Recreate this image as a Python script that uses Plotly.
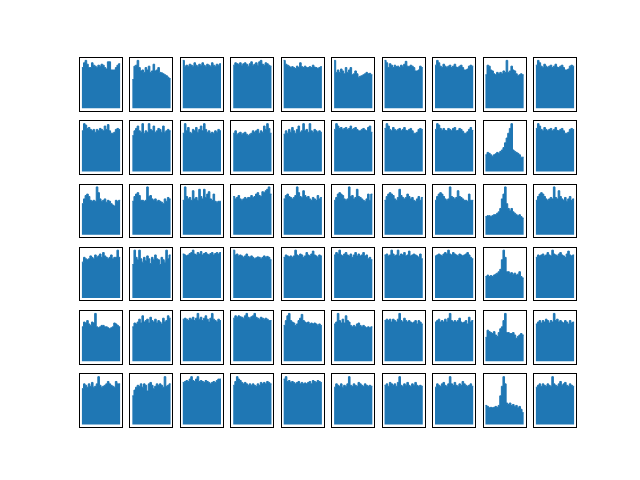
import plotly.graph_objects as go
from plotly.subplots import make_subplots

row1 = [
    [0.85,0.95,1.0,0.92,0.85,0.85,0.95,0.9,0.88,0.85,0.9,0.88,0.92,0.9,0.85,0.82,0.97,0.97,0.8,0.8,0.8,0.85,0.9,0.93],
    [0.6,0.88,0.9,1.0,0.85,0.78,0.8,0.75,0.85,0.8,0.88,0.75,0.78,0.92,0.78,0.8,0.85,0.75,0.74,0.72,0.7,0.68,0.65,0.62],
    [1.0,0.88,0.9,0.88,0.92,0.9,0.88,0.95,0.9,0.88,0.92,0.9,0.95,0.9,0.88,0.92,0.9,0.88,0.95,0.9,0.88,0.92,0.9,0.93],
    [0.9,0.95,0.93,0.92,0.95,0.9,0.93,0.95,0.92,0.88,0.93,0.97,0.9,0.92,0.95,0.9,0.97,1.0,0.92,0.9,0.95,0.93,0.9,0.88],
    [1.0,0.92,0.9,0.88,0.85,0.87,0.85,0.83,0.88,0.85,0.95,0.87,0.85,0.88,0.85,0.85,0.87,0.85,0.9,0.86,0.85,0.83,0.85,0.87],
    [1.0,0.75,0.8,0.75,0.82,0.78,0.72,0.85,0.75,0.8,0.85,0.7,0.72,0.78,0.72,0.65,0.67,0.68,0.7,0.72,0.75,0.72,0.73,0.7],
    [1.0,0.95,0.85,0.93,0.9,0.85,0.9,0.87,0.88,0.85,0.9,0.88,0.92,0.98,0.88,0.87,0.9,0.88,0.85,0.78,0.78,0.8,0.88,0.85],
    [0.9,1.0,0.95,0.88,0.85,0.92,0.88,0.85,0.88,0.9,0.85,0.88,0.92,0.86,0.85,0.88,0.9,0.85,0.8,0.8,0.82,0.88,0.9,0.88],
    [0.7,0.9,0.88,0.8,0.78,0.72,0.7,0.75,0.72,0.75,0.72,0.78,0.75,1.0,0.75,0.78,0.88,0.8,0.78,0.72,0.68,0.7,0.72,0.7],
    [0.9,1.0,0.95,0.88,0.85,0.92,0.88,0.85,0.88,0.9,0.85,0.88,0.92,0.86,0.85,0.88,0.9,0.85,0.8,0.8,0.82,0.88,0.9,0.88],
]
row2 = [
    [0.85,1.0,0.97,0.9,0.92,0.88,0.85,0.88,0.82,0.88,0.85,0.9,0.88,0.85,0.95,0.88,0.98,0.85,0.8,0.8,0.82,0.88,0.9,0.88],
    [0.75,0.85,0.9,0.95,0.85,0.82,1.0,0.8,0.85,0.82,1.0,0.88,0.85,0.95,0.82,0.85,0.9,0.88,0.82,0.95,0.82,0.85,0.88,0.85],
    [0.8,1.0,0.85,0.92,0.82,0.8,0.88,0.85,0.92,0.82,0.88,0.95,0.85,1.0,0.88,0.82,0.85,0.8,0.82,0.8,0.85,0.82,0.88,0.85],
    [0.8,0.85,0.78,0.8,0.82,0.78,0.8,0.82,0.78,0.75,0.78,0.8,0.85,0.82,0.85,0.88,0.8,0.85,0.82,0.95,0.88,1.0,0.9,0.8],
    [0.78,0.85,0.8,0.88,0.82,0.92,0.85,0.8,0.88,0.95,0.82,0.85,1.0,0.85,0.88,0.82,1.0,0.85,0.82,0.88,0.85,0.82,0.85,0.82],
    [0.88,1.0,0.95,0.9,0.92,0.88,0.9,0.92,0.88,0.9,0.95,0.88,0.9,0.92,0.88,0.85,0.85,0.88,0.9,0.87,0.85,0.92,0.95,0.82],
    [0.9,1.0,0.95,0.88,0.85,0.92,0.88,0.85,0.88,0.9,0.85,0.88,0.92,0.86,0.85,0.88,0.9,0.85,0.8,0.8,0.82,0.88,0.9,0.88],
    [0.88,1.0,0.97,0.9,0.86,0.9,0.86,0.85,0.9,0.88,0.85,0.9,0.92,0.85,0.86,0.9,0.88,0.84,0.8,0.8,0.83,0.88,0.92,0.86],
    [0.35,0.4,0.38,0.35,0.32,0.35,0.37,0.4,0.38,0.42,0.45,0.5,0.6,0.7,0.8,0.9,1.0,0.45,0.42,0.4,0.38,0.35,0.3,0.3],
    [0.9,1.0,0.95,0.88,0.85,0.92,0.88,0.85,0.88,0.9,0.85,0.88,0.92,0.86,0.85,0.88,0.9,0.85,0.8,0.8,0.82,0.88,0.9,0.88],
]
row3 = [
    [0.65,0.75,0.82,0.85,0.8,0.72,0.7,0.72,0.7,1.0,0.88,0.75,0.7,0.72,0.75,0.68,0.72,0.7,0.65,0.62,0.6,0.72,0.7,0.72],
    [0.7,0.8,0.85,0.88,0.82,0.72,0.72,0.7,0.72,1.0,0.8,0.82,0.75,0.72,0.75,0.7,0.72,0.7,0.68,0.65,0.75,0.7,0.78,0.75],
    [0.72,1.0,0.8,0.75,0.78,0.72,0.92,0.75,0.78,0.72,0.95,0.8,0.75,0.95,0.78,0.85,0.9,0.75,0.72,0.85,0.7,0.68,0.7,0.7],
    [0.8,0.75,0.78,0.82,0.75,0.72,0.75,0.78,0.75,0.78,0.78,0.82,0.78,0.8,0.85,0.88,0.82,0.8,0.9,0.88,0.92,0.95,1.0,0.85],
    [0.75,0.82,0.85,0.8,0.78,0.75,0.78,0.82,1.0,0.88,0.8,0.78,0.92,0.82,0.78,0.8,0.75,0.72,0.78,0.75,0.72,0.82,0.75,0.78],
    [0.72,0.78,0.85,0.88,0.85,0.82,0.75,0.72,0.75,1.0,0.8,0.82,0.75,0.78,0.95,0.8,0.78,0.75,0.72,0.7,0.75,0.85,0.72,0.85],
    [0.72,0.8,0.85,0.88,0.85,0.82,0.75,0.72,0.78,0.95,0.82,0.78,0.75,0.78,0.85,0.8,0.75,0.78,0.72,0.7,0.75,0.8,0.72,0.78],
    [0.72,0.8,0.85,0.88,0.85,0.8,0.75,0.72,0.75,1.0,0.8,0.78,0.75,0.78,0.92,0.8,0.78,0.75,0.72,0.72,0.7,0.85,0.72,0.72],
    [0.38,0.4,0.4,0.38,0.4,0.42,0.42,0.45,0.48,0.55,0.75,0.85,1.0,0.65,0.55,0.5,0.55,0.48,0.45,0.42,0.4,0.42,0.38,0.35],
    [0.72,0.8,0.85,0.88,0.85,0.8,0.75,0.72,0.75,0.78,0.75,1.0,0.78,0.75,0.92,0.8,0.75,0.72,0.78,0.7,0.75,0.8,0.72,0.75],
]
row4 = [
    [0.75,0.85,0.82,0.8,0.82,0.88,0.85,0.82,0.9,0.85,0.88,0.92,0.85,0.95,0.88,0.85,0.82,0.85,0.9,0.82,0.85,0.85,1.0,0.85],
    [0.7,1.0,0.85,0.8,1.0,0.82,0.75,0.85,0.78,0.88,0.82,0.72,0.85,0.8,0.9,0.82,0.8,0.7,0.85,0.8,0.75,1.0,0.82,0.9],
    [0.92,0.9,0.88,0.9,0.93,0.95,1.0,0.92,0.9,0.95,0.92,0.97,0.9,0.93,0.95,0.92,0.9,0.93,0.95,0.9,0.93,0.95,0.92,0.95],
    [1.0,0.9,0.92,0.88,0.9,0.88,0.85,0.88,0.92,0.87,0.85,0.88,0.85,0.82,0.84,0.86,0.85,0.82,0.85,0.88,0.85,0.87,0.85,0.8],
    [0.85,0.9,0.88,0.86,0.88,0.85,0.88,1.0,0.9,0.88,0.92,0.9,0.85,0.88,0.95,0.9,0.88,0.92,0.98,0.9,0.88,0.85,0.9,0.88],
    [0.9,0.95,0.92,1.0,0.9,0.88,0.92,0.95,0.9,0.88,0.92,0.85,0.9,0.95,0.88,0.92,0.88,0.9,0.95,0.88,0.9,0.82,0.85,0.8],
    [0.9,0.92,0.88,0.9,1.0,0.92,0.88,0.9,1.0,0.88,0.92,0.9,0.95,0.88,0.9,0.98,0.88,0.9,0.92,0.9,0.88,0.85,0.92,0.82],
    [0.88,0.9,0.92,0.9,0.88,0.92,0.95,0.92,1.0,0.92,0.9,0.95,0.92,0.9,0.88,0.92,0.9,0.88,0.9,0.92,0.95,0.9,0.85,0.82],
    [0.45,0.48,0.45,0.47,0.45,0.48,0.5,0.52,0.55,0.6,0.8,1.0,0.85,0.55,0.55,0.52,0.53,0.5,0.52,0.48,0.5,0.55,0.45,0.42],
    [0.85,0.9,0.88,0.9,0.92,0.88,0.9,0.95,0.9,0.88,1.0,0.92,0.9,0.88,0.92,0.95,0.9,0.88,0.85,0.92,0.98,0.9,0.88,0.9],
]
row5 = [
    [0.72,0.82,0.8,0.85,0.78,0.75,0.82,0.8,1.0,0.72,0.7,0.72,0.75,0.75,0.72,0.72,0.7,0.68,0.7,0.72,0.8,0.78,0.75,0.72],
    [0.72,0.8,0.78,0.82,0.88,0.8,0.95,0.82,0.85,0.88,0.8,0.92,0.85,0.82,0.88,0.8,0.85,0.82,0.78,0.9,0.82,0.85,0.95,0.9],
    [0.88,0.9,0.88,0.85,0.9,0.88,0.92,0.85,0.9,1.0,0.88,0.92,0.85,0.9,0.95,0.88,0.82,0.9,1.0,0.88,0.85,0.82,0.88,0.85],
    [0.9,0.95,0.92,0.95,0.93,0.92,0.9,0.95,1.0,0.92,0.9,0.93,0.95,1.0,0.92,0.9,0.88,0.92,0.9,0.88,0.9,0.88,0.85,0.85],
    [0.75,0.85,0.95,1.0,0.85,0.82,0.8,0.75,0.78,0.85,0.9,0.98,0.85,0.82,0.8,0.82,0.78,0.8,0.78,0.8,0.78,0.75,0.78,0.75],
    [0.78,0.82,1.0,0.85,0.8,0.88,0.8,0.95,0.85,0.82,0.75,0.72,0.75,0.72,0.78,0.8,0.75,0.72,0.75,0.72,0.7,0.72,0.7,0.72],
    [0.85,0.88,0.85,0.88,0.82,0.88,0.85,0.82,0.88,1.0,0.85,0.82,0.9,0.85,0.82,0.85,0.82,0.8,0.82,0.85,0.78,0.85,0.82,0.78],
    [0.82,0.85,0.88,0.82,0.85,0.82,0.88,0.82,0.9,1.0,0.85,0.82,0.85,0.82,0.85,0.9,0.82,0.8,0.82,0.85,0.78,0.92,0.82,0.85],
    [0.5,0.65,0.62,0.6,0.58,0.62,0.55,0.52,0.6,0.68,0.72,0.85,1.0,0.6,0.6,0.58,0.58,0.6,0.55,0.48,0.52,0.55,0.58,0.55],
    [0.78,0.82,0.85,0.8,0.85,0.82,0.88,0.85,0.8,0.85,0.82,1.0,0.85,0.88,0.82,0.85,0.82,0.8,0.85,0.82,0.78,0.85,0.8,0.82],
]
row6 = [
    [0.75,0.85,0.82,0.78,0.85,0.8,0.88,0.78,0.8,0.85,1.0,0.82,0.78,0.8,0.82,0.85,0.9,0.85,0.82,0.8,0.78,0.9,0.85,0.85],
    [0.6,0.72,0.78,0.82,0.8,0.85,0.78,0.85,0.82,0.7,0.85,0.88,0.82,0.75,0.8,0.85,0.82,0.85,0.82,0.78,1.0,0.8,0.82,0.85],
    [0.88,0.9,0.92,0.9,0.95,1.0,0.92,0.9,0.95,1.0,0.9,0.92,0.9,0.88,0.92,0.9,0.88,0.85,0.88,0.9,0.88,0.92,0.95,0.95],
    [0.82,0.9,1.0,0.95,0.92,0.88,0.85,0.88,0.85,0.82,0.85,0.82,0.85,0.82,0.8,0.85,0.82,0.88,0.85,0.88,0.85,0.9,0.88,0.85],
    [0.95,1.0,0.9,0.92,0.88,0.9,0.88,0.85,0.88,0.9,0.85,0.88,0.85,0.87,0.85,0.88,0.9,0.85,0.92,0.9,0.88,0.92,0.9,0.88],
    [0.78,0.85,0.82,0.8,0.85,0.78,0.82,0.8,0.85,1.0,0.82,0.8,0.85,0.82,0.8,0.88,0.85,0.82,0.8,0.85,0.82,0.8,0.82,0.8],
    [0.82,0.85,0.8,0.88,0.85,0.82,0.85,0.8,0.88,1.0,0.82,0.8,0.85,0.82,0.88,0.82,0.8,0.85,0.82,0.88,0.82,0.8,0.82,0.8],
    [0.78,0.85,0.82,0.8,0.85,0.88,0.82,0.8,0.85,1.0,0.85,0.82,0.88,0.82,0.8,0.85,0.82,0.9,0.85,0.82,0.8,0.82,0.85,0.8],
    [0.4,0.38,0.35,0.36,0.35,0.36,0.38,0.36,0.4,0.6,0.8,1.0,0.85,0.45,0.42,0.45,0.4,0.42,0.38,0.4,0.35,0.38,0.32,0.25],
    [0.78,0.82,0.85,0.8,0.85,0.82,0.8,0.85,0.82,0.8,1.0,0.85,0.82,0.8,0.85,0.9,0.82,0.85,0.88,0.82,0.8,0.85,0.82,0.8],
]

rows = [row1, row2, row3, row4, row5, row6]
NR, NC = 6, 10
BLUE = "#1f77b4"

fig = make_subplots(rows=NR, cols=NC,
                    horizontal_spacing=8.4 / 496,
                    vertical_spacing=10.56 / 369.6)

for r, rowdata in enumerate(rows):
    for c, vals in enumerate(rowdata):
        n = len(vals)
        xs = list(range(n + 1))
        ys = list(vals) + [vals[-1]]
        fig.add_trace(go.Scatter(x=xs, y=ys, mode="lines", line=dict(color=BLUE, width=1, shape="hv"),
                                 fill="tozeroy", fillcolor=BLUE, hoverinfo="skip", showlegend=False),
                      row=r + 1, col=c + 1)
        span = n
        fig.update_xaxes(range=[-0.05 * span, span * 1.05], row=r + 1, col=c + 1)
        fig.update_yaxes(range=[-0.05, 1.05], row=r + 1, col=c + 1)

fig.update_xaxes(showticklabels=False, ticks="", showgrid=False, zeroline=False,
                 showline=True, mirror=True, linecolor="black", linewidth=1)
fig.update_yaxes(showticklabels=False, ticks="", showgrid=False, zeroline=False,
                 showline=True, mirror=True, linecolor="black", linewidth=1)

fig.update_layout(width=640, height=480, margin=dict(l=80, r=64, t=57.6, b=52.8),
                  plot_bgcolor="white", paper_bgcolor="white", showlegend=False)

fig.write_html("out.html")
